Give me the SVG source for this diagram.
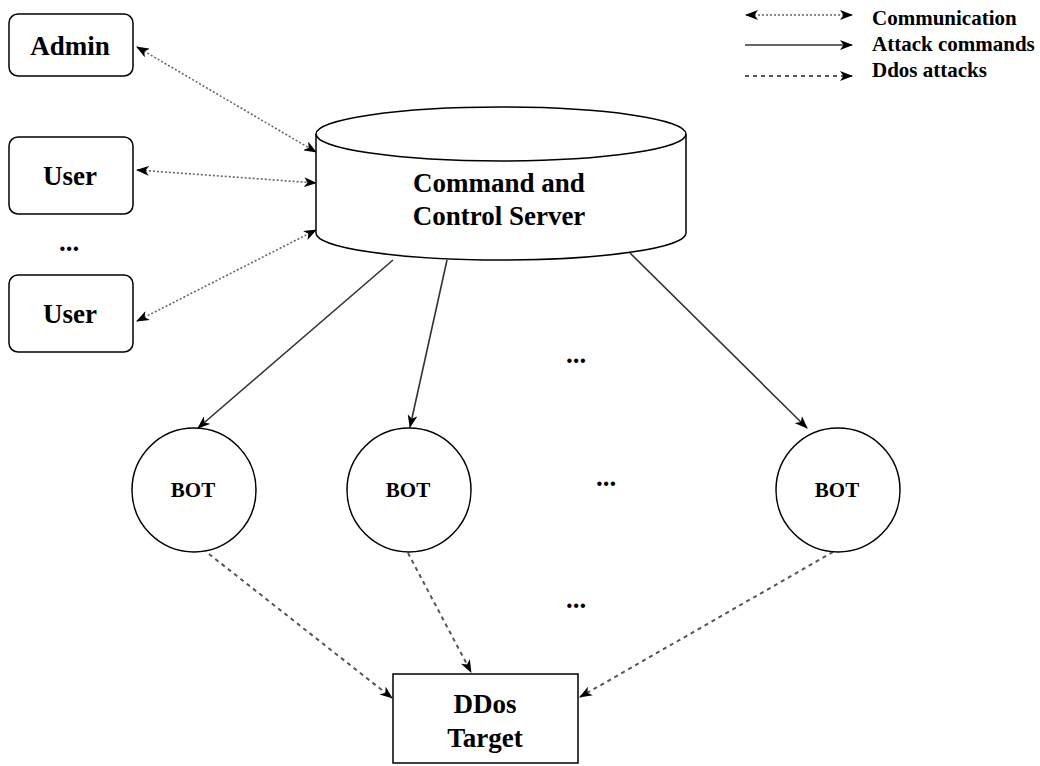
<svg xmlns="http://www.w3.org/2000/svg" width="1040" height="766" viewBox="0 0 1040 766">
<style>
.t{font-family:"Liberation Serif","Times New Roman",serif;font-weight:bold;fill:#000;text-anchor:middle}
.lg{text-anchor:start;font-size:21px}
.m{font-size:27px}
.box{fill:#fff;stroke:#000;stroke-width:1.5}
.solid{stroke:#333;stroke-width:1.6;fill:none}
.dash{stroke:#555;stroke-width:2;fill:none;stroke-dasharray:4 4}
.dot{stroke:#666;stroke-width:1.6;fill:none;stroke-dasharray:2 2}
</style>
<defs>
<marker id="ah" viewBox="0 0 13 10" refX="12" refY="5" markerWidth="13" markerHeight="10" markerUnits="userSpaceOnUse" orient="auto-start-reverse">
<path d="M0,0 L13,5 L0,10 L3.5,5 Z" fill="#000"/>
</marker>
</defs>
<rect width="1040" height="766" fill="#fff"/>
<g id="legend">
<line class="dot" x1="746" y1="15" x2="852" y2="15" marker-start="url(#ah)" marker-end="url(#ah)"/>
<line class="solid" x1="745" y1="45" x2="852" y2="45" marker-end="url(#ah)"/>
<line class="dash" x1="745" y1="76" x2="852" y2="76" marker-end="url(#ah)"/>
<text class="t lg" x="872" y="25">Communication</text>
<text class="t lg" x="872" y="51">Attack commands</text>
<text class="t lg" x="872" y="77">Ddos attacks</text>
</g>
<g id="connectors">
<line class="dot" x1="137" y1="47" x2="316" y2="152" marker-start="url(#ah)" marker-end="url(#ah)"/>
<line class="dot" x1="137" y1="170" x2="316" y2="183" marker-start="url(#ah)" marker-end="url(#ah)"/>
<line class="dot" x1="137" y1="321" x2="316" y2="230" marker-start="url(#ah)" marker-end="url(#ah)"/>
<line class="solid" x1="393" y1="260" x2="198" y2="428" marker-end="url(#ah)"/>
<line class="solid" x1="447" y1="260" x2="410" y2="427" marker-end="url(#ah)"/>
<line class="solid" x1="630" y1="253" x2="807" y2="428" marker-end="url(#ah)"/>
<line class="dash" x1="209" y1="554" x2="392" y2="698" marker-end="url(#ah)"/>
<line class="dash" x1="408" y1="553" x2="471" y2="672" marker-end="url(#ah)"/>
<line class="dash" x1="833" y1="552" x2="580" y2="697" marker-end="url(#ah)"/>
</g>
<g id="admin">
<rect class="box" x="9" y="14" width="124" height="62" rx="9"/>
<text class="t m" x="70" y="55">Admin</text>
</g>
<g id="user1">
<rect class="box" x="9" y="137" width="124" height="77" rx="9"/>
<text class="t m" x="70" y="185">User</text>
</g>
<text class="t m" x="69" y="251">...</text>
<g id="user2">
<rect class="box" x="9" y="275" width="124" height="77" rx="9"/>
<text class="t m" x="70" y="323">User</text>
</g>
<g id="server">
<path class="box" d="M316,134 L316,233 A185,27 0 0 0 686,233 L686,134"/>
<ellipse class="box" cx="501" cy="134" rx="185" ry="27"/>
<text class="t m" x="499" y="192">Command and</text>
<text class="t m" x="499" y="225">Control Server</text>
</g>
<g id="bot1">
<circle class="box" cx="194" cy="490" r="62"/>
<text class="t" x="193" y="497" font-size="21">BOT</text>
</g>
<g id="bot2">
<circle class="box" cx="409" cy="490" r="62"/>
<text class="t" x="408" y="497" font-size="21">BOT</text>
</g>
<g id="bot3">
<circle class="box" cx="838" cy="490" r="62"/>
<text class="t" x="837" y="497" font-size="21">BOT</text>
</g>
<text class="t m" x="576" y="363">...</text>
<text class="t m" x="606" y="486">...</text>
<text class="t m" x="576" y="608">...</text>
<g id="target">
<rect class="box" x="393" y="674" width="185" height="89"/>
<text class="t m" x="485" y="713">DDos</text>
<text class="t m" x="485" y="747">Target</text>
</g>
</svg>
